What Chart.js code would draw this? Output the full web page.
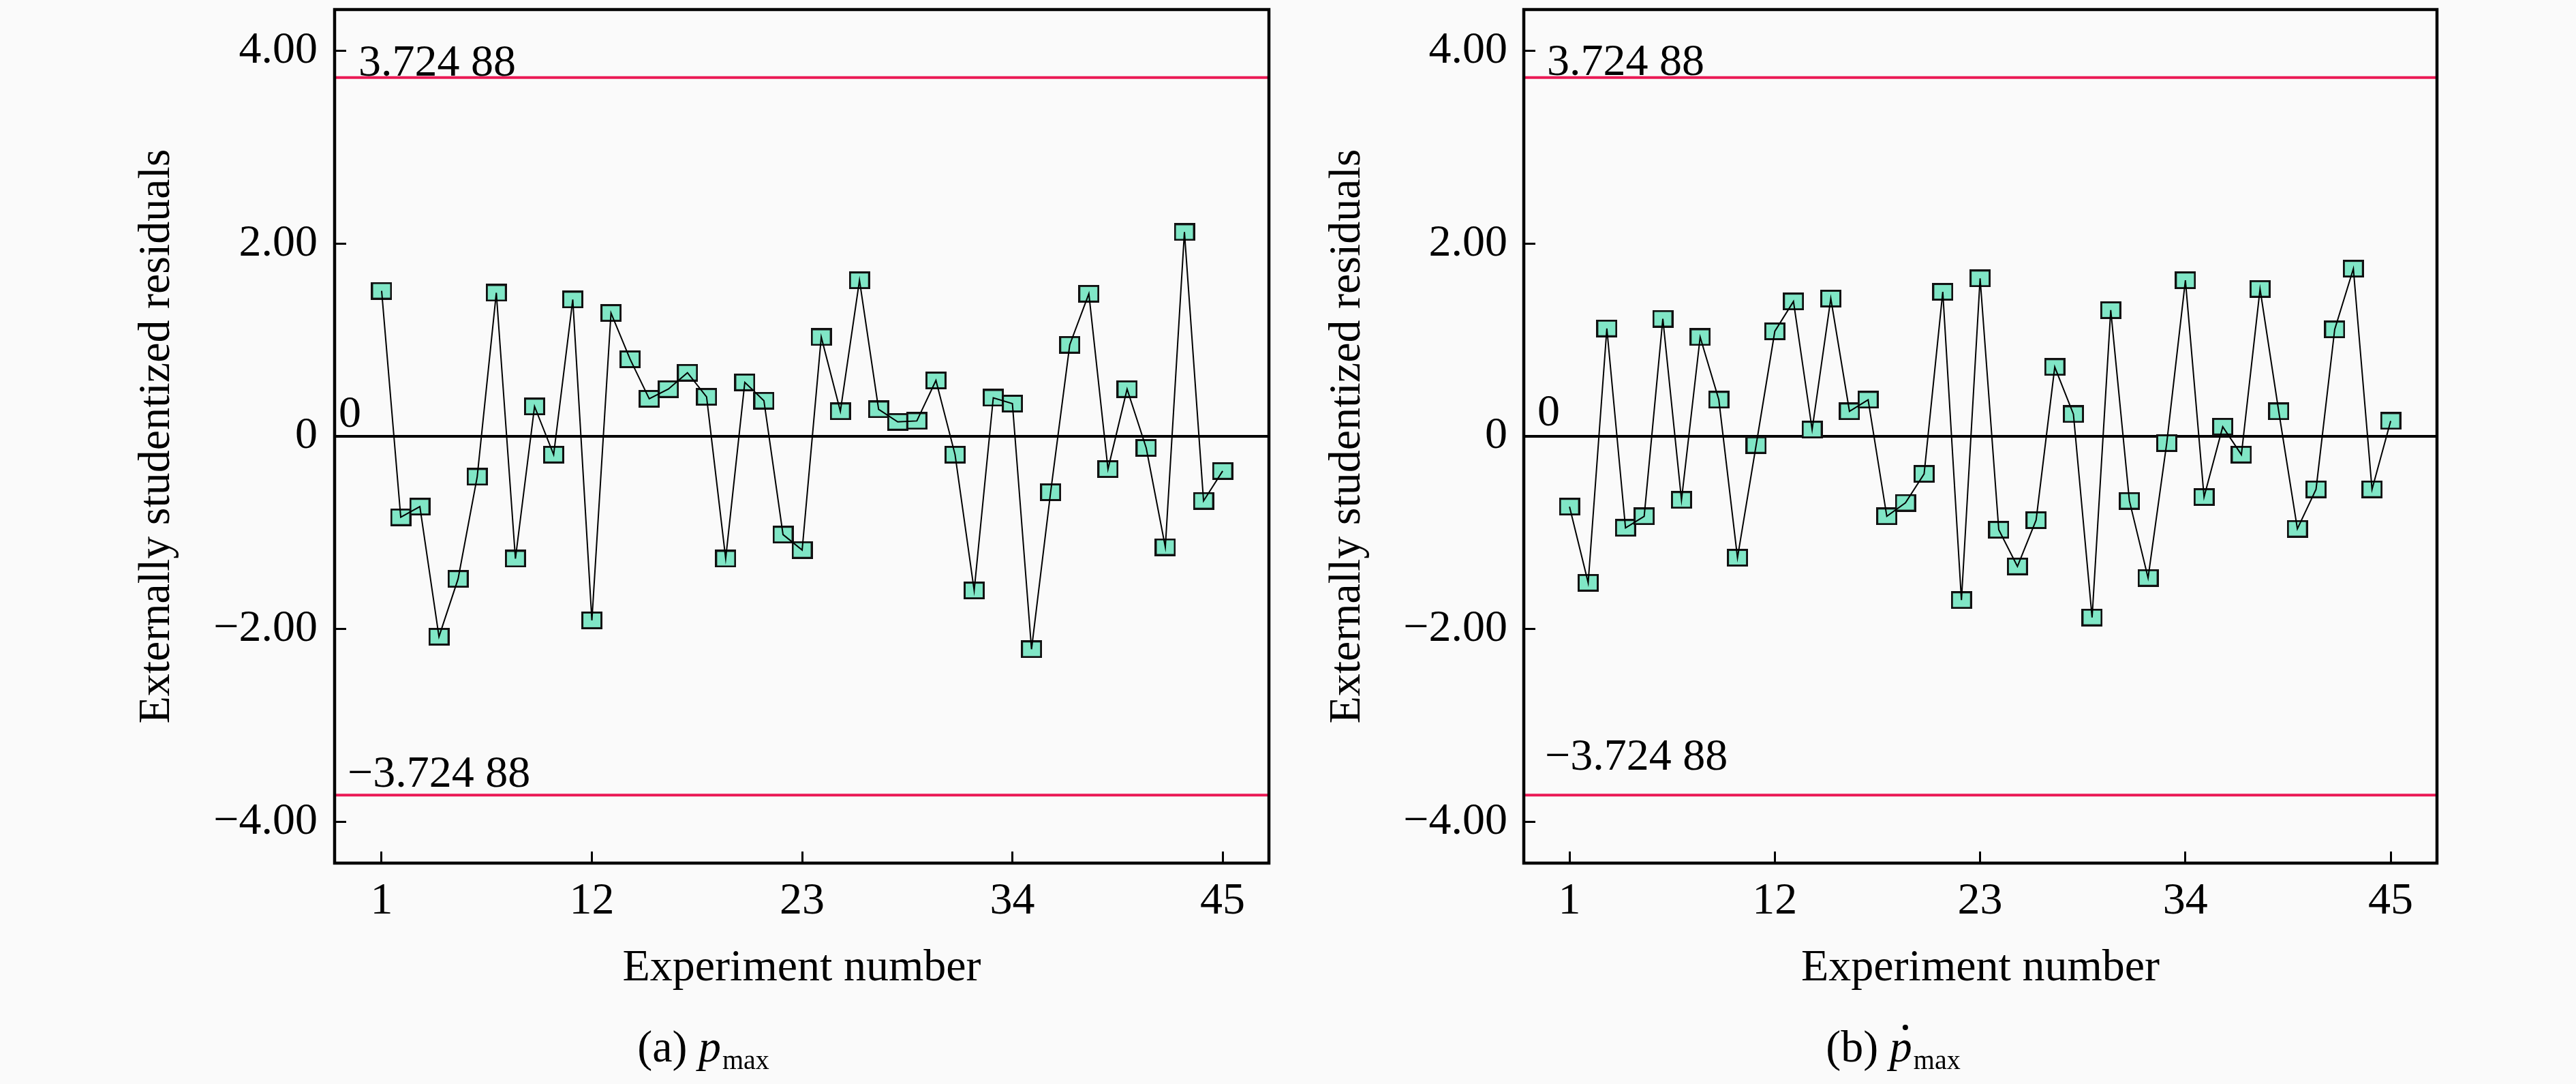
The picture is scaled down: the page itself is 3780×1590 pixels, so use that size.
<!DOCTYPE html>
<html>
<head>
<meta charset="utf-8">
<script src="https://cdn.jsdelivr.net/npm/chart.js@4.4.0/dist/chart.umd.min.js"></script>
<style>
  html, body { margin: 0; padding: 0; background: #fafafa; }
  body { width: 3780px; height: 1590px; position: relative; overflow: hidden; }
  .panel { position: absolute; top: 0; width: 1890px; height: 1590px; }
  #panelA { left: 0; }
  #panelB { left: 1890px; }
</style>
</head>
<body>
<div class="panel" id="panelA"><canvas id="chartA"></canvas></div>
<div class="panel" id="panelB"><canvas id="chartB"></canvas></div>
<script>
// data
const experimentNumbers = [1, 2, 3, 4, 5, 6, 7, 8, 9, 10, 11, 12, 13, 14, 15,
  16, 17, 18, 19, 20, 21, 22, 23, 24, 25, 26, 27, 28, 29, 30,
  31, 32, 33, 34, 35, 36, 37, 38, 39, 40, 41, 42, 43, 44, 45];

const residualsPmax = [1.51, -0.84, -0.73, -2.08, -1.48, -0.42, 1.49, -1.27, 0.31, -0.19,
  1.42, -1.91, 1.28, 0.80, 0.39, 0.49, 0.66, 0.41, -1.27, 0.56,
  0.37, -1.02, -1.18, 1.03, 0.26, 1.62, 0.28, 0.15, 0.16, 0.58,
  -0.19, -1.60, 0.40, 0.34, -2.21, -0.58, 0.95, 1.48, -0.34, 0.49,
  -0.12, -1.15, 2.12, -0.67, -0.36];

const residualsPdotMax = [-0.73, -1.52, 1.12, -0.95, -0.83, 1.22, -0.66, 1.03, 0.38, -1.26,
  -0.09, 1.09, 1.40, 0.07, 1.43, 0.26, 0.38, -0.83, -0.69, -0.39,
  1.50, -1.70, 1.64, -0.97, -1.35, -0.87, 0.72, 0.23, -1.88, 1.31,
  -0.67, -1.47, -0.07, 1.62, -0.63, 0.10, -0.19, 1.53, 0.26, -0.96,
  -0.55, 1.11, 1.74, -0.55, 0.16];

const xTickValues = [1, 12, 23, 34, 45];
const yTickValues = [-4, -2, 0, 2, 4];
const criticalValue = 3.72488;
const criticalText = '3.724 88';

const FONT = '"Liberation Serif", "Times New Roman", serif';
const RED = 'rgb(235, 25, 85)';

Chart.defaults.font.family = FONT;
Chart.defaults.color = '#000';

function makeMarker() {
  const c = document.createElement('canvas');
  c.width = 31;
  c.height = 26;
  const g = c.getContext('2d');
  g.fillStyle = '#80e6c6';
  g.fillRect(0, 0, 31, 26);
  g.strokeStyle = '#111';
  g.lineWidth = 3;
  g.strokeRect(1.5, 1.5, 28, 23);
  return c;
}
const marker = makeMarker();

// horizontal reference lines with their labels
const refLines = {
  id: 'refLines',
  beforeDatasetsDraw(chart, args, opts) {
    const {ctx, chartArea: a, scales: {y}} = chart;
    ctx.save();
    ctx.font = '66px ' + FONT;
    ctx.textBaseline = 'alphabetic';
    ctx.textAlign = 'left';
    ctx.fillStyle = '#000';
    opts.lines.forEach(l => {
      const py = y.getPixelForValue(l.value);
      ctx.strokeStyle = l.color;
      ctx.lineWidth = 4;
      ctx.beginPath();
      ctx.moveTo(a.left, py);
      ctx.lineTo(a.right, py);
      ctx.stroke();
      ctx.fillText(l.label, a.left + l.dx, py - l.dy);
    });
    ctx.restore();
  }
};

const frame = {
  id: 'frame',
  afterDraw(chart) {
    const {ctx, chartArea: a} = chart;
    ctx.save();
    ctx.strokeStyle = '#000';
    ctx.lineWidth = 4.5;
    ctx.strokeRect(a.left, a.top, a.right - a.left, a.bottom - a.top);
    ctx.restore();
  }
};

// "(a) p_max" style caption under the panel
const caption = {
  id: 'caption',
  afterDraw(chart, args, o) {
    const ctx = chart.ctx;
    const fMain = '66px ' + FONT;
    const fItal = 'italic 66px ' + FONT;
    const fSub = '40px ' + FONT;
    ctx.save();
    ctx.fillStyle = '#000';
    ctx.textBaseline = 'alphabetic';
    ctx.textAlign = 'left';
    ctx.font = fMain; const w1 = ctx.measureText(o.tag + ' ').width;
    ctx.font = fItal; const w2 = ctx.measureText('p').width;
    ctx.font = fSub; const w3 = ctx.measureText('max').width;
    let x = o.centerX - (w1 + w2 + w3) / 2;
    ctx.font = fMain;
    ctx.fillText(o.tag + ' ', x, o.baseline);
    x += w1;
    ctx.font = fItal;
    ctx.fillText('p', x, o.baseline);
    if (o.dot) {
      ctx.beginPath();
      ctx.arc(x + w2 * 0.7, o.baseline - 50, 4, 0, Math.PI * 2);
      ctx.fill();
    }
    x += w2 + 2;
    ctx.font = fSub;
    ctx.fillText('max', x, o.baseline + 11);
    ctx.restore();
  }
};

function fmtY(v) {
  if (v === 0) return '0';
  return (v < 0 ? '\u2212' : '') + Math.abs(v).toFixed(2);
}

function makeChart(id, values, s) {
  const pts = experimentNumbers.map((n, i) => ({x: n, y: values[i]}));
  return new Chart(document.getElementById(id), {
    type: 'line',
    data: {
      datasets: [{
        data: pts,
        showLine: false,
        pointStyle: marker,
        pointRadius: 13,
        order: 2
      }, {
        data: pts,
        borderColor: '#000',
        borderWidth: 2,
        pointRadius: 0,
        fill: false,
        tension: 0,
        order: 1
      }]
    },
    options: {
      responsive: true,
      maintainAspectRatio: false,
      devicePixelRatio: 1,
      animation: false,
      events: [],
      layout: { padding: { top: 2, right: s.padRight, left: 0, bottom: 0 } },
      plugins: {
        legend: { display: false },
        tooltip: { enabled: false },
        refLines: { lines: s.lines },
        caption: s.caption
      },
      scales: {
        x: {
          type: 'linear',
          min: s.xMin,
          max: s.xMax,
          bounds: 'data',
          border: { display: false },
          grid: { drawOnChartArea: false, drawTicks: true, tickLength: -17, color: '#000', lineWidth: 3 },
          afterBuildTicks: sc => { sc.ticks = xTickValues.map(v => ({value: v})); },
          afterFit: sc => { sc.height = 324; sc.paddingLeft = 0; sc.paddingRight = 0; },
          ticks: { font: { size: 66 }, padding: 34, maxRotation: 0, callback: v => String(v) },
          title: { display: true, text: 'Experiment number', font: { size: 66 }, padding: { top: 0, bottom: 130 } }
        },
        y: {
          min: -4.43,
          max: 4.43,
          bounds: 'data',
          border: { display: false },
          grid: { drawOnChartArea: false, drawTicks: true, tickLength: -17, color: '#000', lineWidth: 3 },
          afterBuildTicks: sc => { sc.ticks = yTickValues.map(v => ({value: v})); },
          afterFit: sc => { sc.width = s.yWidth; sc.paddingTop = 0; sc.paddingBottom = 0; },
          ticks: { font: { size: 66 }, padding: s.yPad, callback: fmtY },
          title: { display: true, text: 'Externally studentized residuals', font: { size: 66 }, padding: { top: s.yTitlePad, bottom: 0 } }
        }
      }
    },
    plugins: [refLines, frame, caption]
  });
}

makeChart('chartA', residualsPmax, {
  xMin: -1.46, xMax: 47.42, yWidth: 491, padRight: 28, yPad: 42, yTitlePad: 191,
  lines: [
    { value: criticalValue, label: criticalText, color: RED, dx: 35, dy: 3 },
    { value: 0, label: '0', color: '#000', dx: 6, dy: 14 },
    { value: -criticalValue, label: '\u2212' + criticalText, color: RED, dx: 19, dy: 12 }
  ],
  caption: { tag: '(a)', centerX: 1031, baseline: 1557, dot: false }
});

makeChart('chartB', residualsPdotMax, {
  xMin: -1.45, xMax: 47.48, yWidth: 346, padRight: 204, yPad: 41, yTitlePad: 48,
  lines: [
    { value: criticalValue, label: criticalText, color: RED, dx: 34, dy: 4 },
    { value: 0, label: '0', color: '#000', dx: 20, dy: 16 },
    { value: -criticalValue, label: '\u2212' + criticalText, color: RED, dx: 31, dy: 37 }
  ],
  caption: { tag: '(b)', centerX: 887, baseline: 1557, dot: true }
});
</script>
</body>
</html>
